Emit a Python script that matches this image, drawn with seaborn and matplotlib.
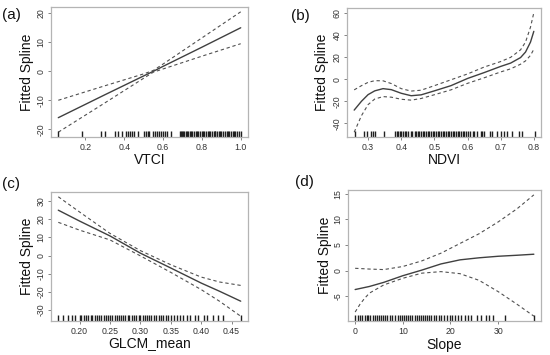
import matplotlib
matplotlib.use("Agg")
import matplotlib.pyplot as plt
import seaborn as sns
import pandas as pd

# ---- panel (a): VTCI ----
vtci_x = [0.06, 0.30, 0.50, 0.55, 0.60, 0.80, 1.00]
vtci_fit = [-16.0, -8.1, -1.6, 0.0, 1.7, 8.3, 15.0]
vtci_upper = [-10.0, -5.0, -0.9, 0.3, 2.5, 11.5, 20.5]
vtci_lower = [-21.0, -10.9, -2.4, -0.3, 0.8, 5.2, 9.5]
vtci_rug = [0.06, 0.18, 0.28, 0.30, 0.35, 0.37, 0.39, 0.41, 0.42, 0.43, 0.44,
            0.45, 0.47, 0.50, 0.51, 0.52, 0.53, 0.55, 0.56, 0.57, 0.58, 0.59,
            0.60, 0.61, 0.62, 0.64, 0.685, 0.69, 0.70, 0.705, 0.71, 0.72,
            0.725, 0.73, 0.74, 0.745, 0.75, 0.76, 0.77, 0.775, 0.78, 0.79,
            0.80, 0.805, 0.81, 0.82, 0.83, 0.835, 0.84, 0.85, 0.86, 0.865,
            0.87, 0.88, 0.89, 0.895, 0.90, 0.91, 0.92, 0.93, 0.935, 0.94,
            0.95, 0.96, 0.965, 0.97, 0.98, 0.99, 1.00]
vtci_xticks = [0.2, 0.4, 0.6, 0.8, 1.0]
vtci_yticks = [-20, -10, 0, 10, 20]

# ---- panel (b): NDVI ----
ndvi_x = [0.258, 0.28, 0.30, 0.32, 0.345, 0.37, 0.40, 0.43, 0.46, 0.50,
          0.55, 0.60, 0.65, 0.70, 0.73, 0.76, 0.775, 0.79, 0.80]
ndvi_fit = [-28.0, -20.0, -14.0, -10.6, -8.6, -9.5, -12.8, -15.0, -14.2,
            -10.6, -5.9, 0.6, 5.9, 11.5, 14.5, 19.5, 24.5, 33.5, 43.2]
ndvi_upper = [-9.7, -5.9, -2.9, -1.4, -1.5, -4.0, -8.6, -10.8, -10.0, -5.9,
              -0.6, 4.7, 10.9, 15.9, 19.7, 26.5, 33.5, 47.0, 60.0]
ndvi_lower = [-48.0, -33.0, -23.0, -18.0, -15.8, -16.3, -18.2, -19.0, -17.5,
              -14.1, -9.7, -3.8, 1.2, 6.5, 9.3, 13.5, 16.5, 21.5, 27.0]
ndvi_rug = [0.26, 0.289, 0.296, 0.309, 0.316, 0.321, 0.348, 0.382, 0.386,
            0.39, 0.395, 0.40, 0.405, 0.41, 0.415, 0.42, 0.428, 0.433, 0.44,
            0.445, 0.45, 0.455, 0.46, 0.465, 0.47, 0.475, 0.48, 0.485, 0.49,
            0.495, 0.50, 0.505, 0.51, 0.515, 0.52, 0.525, 0.53, 0.535, 0.54,
            0.545, 0.55, 0.555, 0.56, 0.565, 0.57, 0.575, 0.58, 0.585, 0.59,
            0.595, 0.60, 0.607, 0.615, 0.62, 0.63, 0.64, 0.645, 0.65, 0.667,
            0.675, 0.69, 0.70, 0.71, 0.72, 0.735, 0.755, 0.765, 0.804]
ndvi_xticks = [0.3, 0.4, 0.5, 0.6, 0.7, 0.8]
ndvi_yticks = [-40, -20, 0, 20, 40, 60]

# ---- panel (c): GLCM_mean ----
glcm_x = [0.165, 0.20, 0.25, 0.30, 0.35, 0.40, 0.43, 0.465]
glcm_fit = [25.0, 19.0, 10.8, 1.3, -6.9, -15.2, -19.7, -25.2]
glcm_upper = [32.4, 24.0, 12.2, 2.7, -5.1, -11.9, -14.6, -16.5]
glcm_lower = [18.3, 14.0, 8.6, -0.2, -9.3, -18.8, -25.2, -33.5]
glcm_rug = [0.165, 0.172, 0.181, 0.188, 0.192, 0.20, 0.203, 0.207, 0.21,
            0.214, 0.218, 0.221, 0.225, 0.229, 0.232, 0.236, 0.24, 0.243,
            0.247, 0.25, 0.254, 0.258, 0.261, 0.265, 0.268, 0.272, 0.275,
            0.279, 0.282, 0.286, 0.29, 0.293, 0.297, 0.30, 0.304, 0.308,
            0.311, 0.315, 0.318, 0.322, 0.326, 0.33, 0.334, 0.338, 0.342,
            0.346, 0.35, 0.355, 0.36, 0.365, 0.37, 0.376, 0.382, 0.39, 0.395,
            0.404, 0.41, 0.42, 0.428, 0.436, 0.465]
glcm_xticks = [0.20, 0.25, 0.30, 0.35, 0.40, 0.45]
glcm_yticks = [-30, -20, -10, 0, 10, 20, 30]

# ---- panel (d): Slope ----
slope_x = [0, 1, 2, 3, 6, 10, 14, 18, 22, 26, 30, 34, 37.5]
slope_fit = [-3.7, -3.5, -3.3, -3.1, -2.3, -1.0, 0.1, 1.3, 2.1, 2.5, 2.8,
             3.0, 3.2]
slope_upper = [0.45, 0.4, 0.35, 0.3, 0.2, 0.8, 1.9, 3.4, 5.3, 7.2, 9.5,
               12.1, 14.8]
slope_lower = [-8.1, -6.6, -5.4, -4.4, -2.8, -1.5, -0.5, -0.2, -0.6, -1.9,
               -4.1, -6.6, -8.9]
slope_rug = [0.0, 0.5, 1.0, 1.5, 2.0, 2.4, 2.8, 3.2, 3.7, 4.1, 4.5, 5.0, 5.4,
             5.9, 6.3, 6.6, 7.4, 7.8, 8.3, 9.0, 9.4, 9.8, 10.3, 10.7, 11.1,
             11.6, 12.0, 12.5, 12.9, 13.3, 13.8, 14.2, 14.6, 15.1, 15.5, 16.0,
             16.5, 17.0, 17.6, 18.1, 18.7, 19.2, 19.8, 20.4, 21.0, 21.6,
             22.3, 23.0, 23.7, 24.4, 25.5, 26.5, 27.5, 28.1, 29.0, 31.4, 37.5]
slope_xticks = [0, 10, 20, 30]
slope_yticks = [-5, 0, 5, 10, 15]

panels = [
    ("(a)", "VTCI", vtci_x, vtci_fit, vtci_upper, vtci_lower, vtci_rug,
     vtci_xticks, vtci_yticks, "{:.1f}"),
    ("(b)", "NDVI", ndvi_x, ndvi_fit, ndvi_upper, ndvi_lower, ndvi_rug,
     ndvi_xticks, ndvi_yticks, "{:.1f}"),
    ("(c)", "GLCM_mean", glcm_x, glcm_fit, glcm_upper, glcm_lower, glcm_rug,
     glcm_xticks, glcm_yticks, "{:.2f}"),
    ("(d)", "Slope", slope_x, slope_fit, slope_upper, slope_lower, slope_rug,
     slope_xticks, slope_yticks, "{:.0f}"),
]

# axes boxes in pixels: left, top, right, bottom ; panel letter centre
W, H = 550, 355
boxes = [(51, 7, 248, 137), (347, 8, 541, 137),
         (51, 192, 248, 321), (348, 190, 541, 321)]
letters = [(11, 15), (300, 16), (11, 184), (304, 182)]
xlab_gap = [23, 23, 22, 24]
ylab_gap = [24, 25, 24, 23]

sns.set_theme(style="white")
plt.rcParams["font.family"] = ["Liberation Sans", "DejaVu Sans"]
plt.rcParams["axes.unicode_minus"] = False

fig = plt.figure(figsize=(W / 100, H / 100), dpi=100)

frame_col = "#b4b4b4"
for i, (tag, xname, x, fit, up, lo, rug, xt, yt, fmt) in enumerate(panels):
    l, t, r, b = boxes[i]
    ax = fig.add_axes([l / W, 1 - b / H, (r - l) / W, (b - t) / H])

    df = pd.DataFrame({"x": x, "fit": fit, "upper": up, "lower": lo})
    sns.lineplot(data=df, x="x", y="fit", ax=ax, color="#404040", lw=1.0,
                 estimator=None, sort=False)
    for col in ["upper", "lower"]:
        sns.lineplot(data=df, x="x", y=col, ax=ax, color="#505050", lw=0.8,
                     estimator=None, sort=False, linestyle=(0, (3, 2.5)))
    sns.rugplot(x=rug, ax=ax, height=0.045, color="#202020", lw=0.7,
                expand_margins=False)

    # R-style 4% padding around the data
    xr = max(x) - min(x)
    ax.set_xlim(min(x) - 0.04 * xr, max(x) + 0.04 * xr)
    ymin = min(lo + fit + up)
    ymax = max(lo + fit + up)
    yr = ymax - ymin
    ax.set_ylim(ymin - 0.04 * yr, ymax + 0.04 * yr)

    ax.set_xticks(xt)
    ax.set_xticklabels([fmt.format(v) for v in xt])
    ax.set_yticks(yt)
    ax.set_yticklabels([str(v) for v in yt], rotation=90, va="center")
    ax.tick_params(axis="both", which="both", direction="out", length=2.5,
                   width=0.6, color="#707070", labelsize=6.3,
                   labelcolor="#333333", pad=1.5, left=True, bottom=True)

    for s in ax.spines.values():
        s.set_color(frame_col)
        s.set_linewidth(0.9)

    hpx = b - t
    wpx = r - l
    ax.set_xlabel(xname, fontsize=10, color="#111111", va="center")
    ax.xaxis.set_label_coords(0.5, -xlab_gap[i] / hpx)
    ax.set_ylabel("Fitted Spline", fontsize=10, color="#111111", va="center")
    ax.yaxis.set_label_coords(-ylab_gap[i] / wpx, 0.5)

    lx, ly = letters[i]
    fig.text(lx / W, 1 - ly / H, tag, fontsize=11, ha="center", va="center",
             color="#111111")

fig.savefig("out.png", dpi=100)
